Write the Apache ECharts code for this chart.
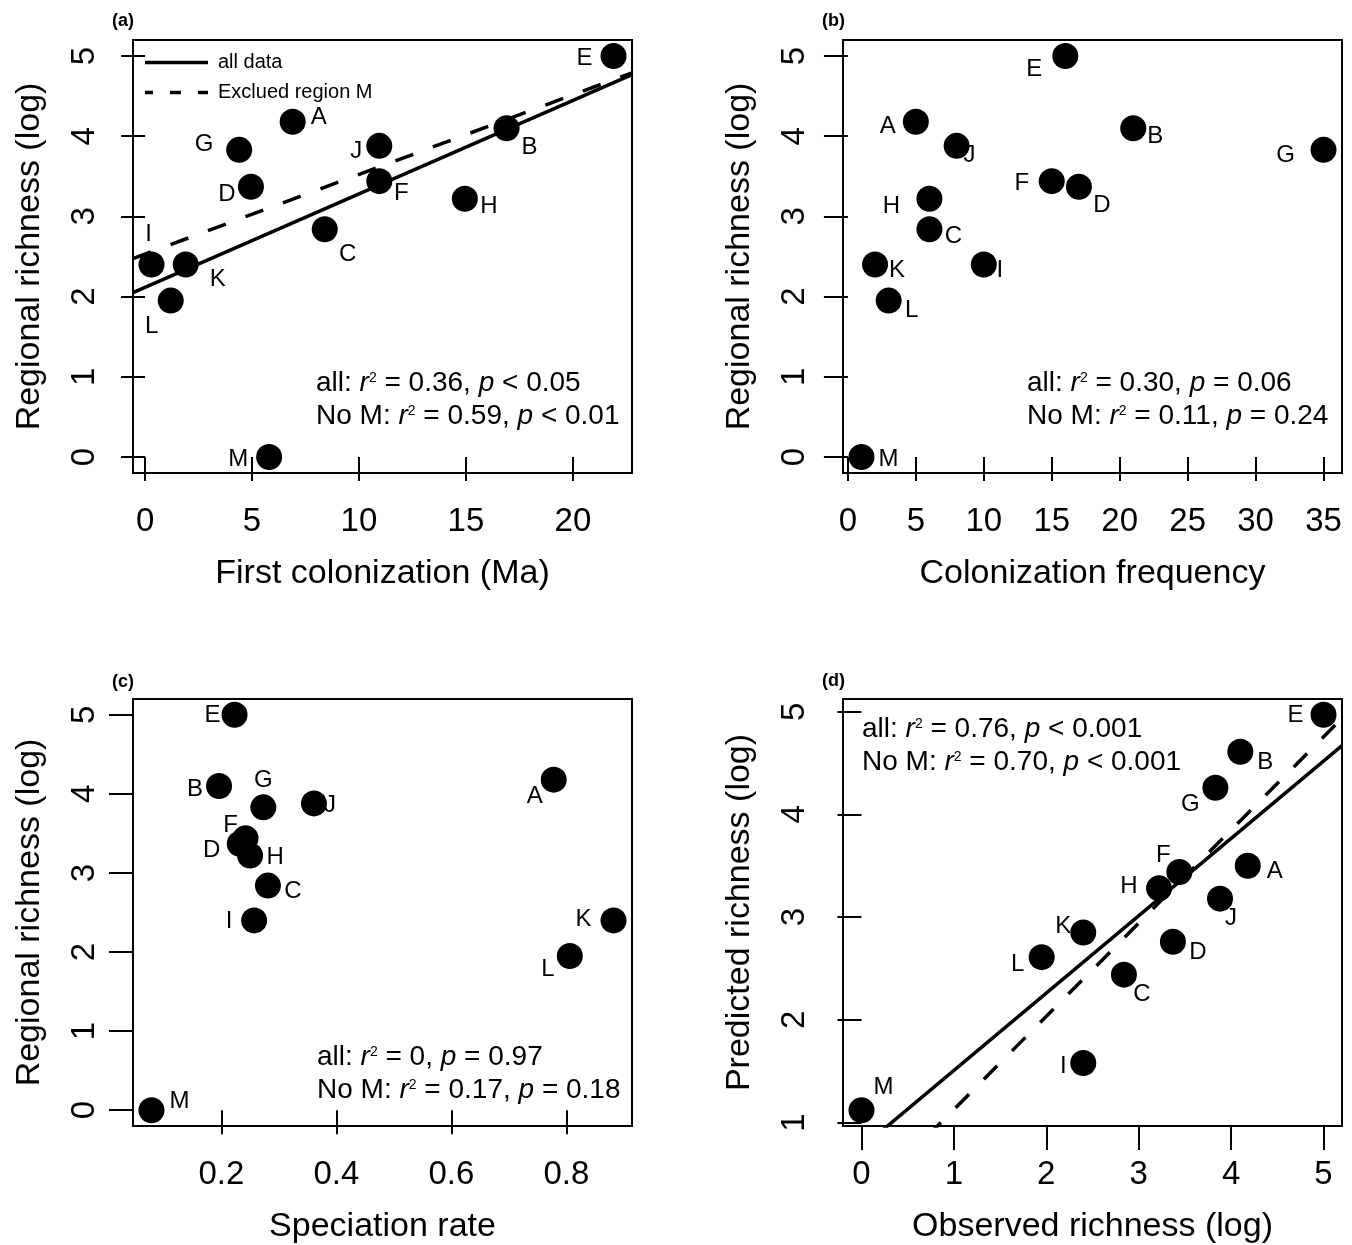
<!DOCTYPE html>
<html><head><meta charset="utf-8">
<script src="https://cdn.jsdelivr.net/npm/echarts@6/dist/echarts.min.js"></script>
<style>html,body{margin:0;padding:0;background:#fff}#chart{width:1352px;height:1245px}</style>
</head><body><div id="chart"></div>
<script>
// ---------------- DATA ----------------
const regions = ['A','B','C','D','E','F','G','H','I','J','K','L','M'];
const richness = [4.18, 4.10, 2.84, 3.37, 5.00, 3.44, 3.83, 3.22, 2.40, 3.88, 2.40, 1.95, 0.00];
const firstColonization = [6.9, 16.9, 8.4, 4.95, 21.9, 10.95, 4.4, 14.95, 0.3, 10.95, 1.9, 1.2, 5.8];
const colonizationFrequency = [5, 21, 6, 17, 16, 15, 35, 6, 10, 8, 2, 3, 1];
const speciationRate = [0.778, 0.196, 0.281, 0.232, 0.223, 0.242, 0.273, 0.250, 0.257, 0.361, 0.882, 0.806, 0.0785];
const predictedRichness = [3.50, 4.61, 2.44, 2.76, 4.97, 3.44, 4.26, 3.28, 1.58, 3.18, 2.85, 2.61, 1.12];

// regression lines: [intercept, slope]
const fitA_all = [2.115, 0.1166];
const fitA_noM = [2.53, 0.0993];
const fitD_all = [0.754, 0.753];
const fitD_noM = [0.22, 0.907];

const xTicksA = [0, 5, 10, 15, 20];
const xTicksB = [0, 5, 10, 15, 20, 25, 30, 35];
const xTicksC = [0.2, 0.4, 0.6, 0.8];
const xTicksD = [0, 1, 2, 3, 4, 5];
const yTicksRich = [0, 1, 2, 3, 4, 5];
const yTicksD = [1, 2, 3, 4, 5];

const statsA = [['all', '0.36', '<', '0.05'], ['No M', '0.59', '<', '0.01']];
const statsB = [['all', '0.30', '=', '0.06'], ['No M', '0.11', '=', '0.24']];
const statsC = [['all', '0', '=', '0.97'], ['No M', '0.17', '=', '0.18']];
const statsD = [['all', '0.76', '<', '0.001'], ['No M', '0.70', '<', '0.001']];

// ---------------- LAYOUT / STYLE ----------------
const FONT = "'Liberation Sans', Arial, Helvetica, sans-serif";
//                  A         B         C         D         E         F         G         H         I         J         K         L         M
const offA = [[26,-4],[23,19],[23,25],[-24,8],[-29,2],[22,12],[-35,-5],[24,8],[-3,-30],[-23,6],[32,15],[-19,26],[-31,2]];
const offB = [[-28,5],[22,8],[24,7],[23,19],[-31,13],[-30,2],[-38,6],[-38,8],[16,6],[13,10],[22,6],[23,10],[27,2]];
const offC = [[-19,17],[-24,3],[25,6],[-28,7],[-22,1],[-15,-13],[0,-27],[25,2],[-25,1],[16,2],[-30,-1],[-22,13],[28,-9]];
const offD = [[27,6],[25,11],[18,20],[25,11],[-28,1],[-16,-17],[-25,17],[-30,-2],[-20,3],[11,20],[-20,-6],[-24,7],[22,-23]];

const grids = [
  {left: 133, top: 40, width: 499, height: 433},
  {left: 843, top: 40, width: 499, height: 433},
  {left: 133, top: 699, width: 499, height: 433},
  {left: 843, top: 699, width: 499, height: 433}
];

function padRange(arr) {
  const mn = Math.min(...arr), mx = Math.max(...arr), p = 0.04 * (mx - mn);
  return [mn - p, mx + p];
}

const panels = [
  {x: firstColonization, y: richness, xt: xTicksA, yt: yTicksRich, xn: 'First colonization (Ma)', yn: 'Regional richness (log)', off: offA},
  {x: colonizationFrequency, y: richness, xt: xTicksB, yt: yTicksRich, xn: 'Colonization frequency', yn: 'Regional richness (log)', off: offB},
  {x: speciationRate, y: richness, xt: xTicksC, yt: yTicksRich, xn: 'Speciation rate', yn: 'Regional richness (log)', off: offC},
  {x: richness, y: predictedRichness, xt: xTicksD, yt: yTicksD, xn: 'Observed richness (log)', yn: 'Predicted richness (log)', off: offD}
];

const xAxes = [], yAxes = [], series = [];
panels.forEach((p, i) => {
  const xr = padRange(p.x), yr = padRange(p.y);
  p.xr = xr; p.yr = yr;
  const common = {
    type: 'value', gridIndex: i,
    nameLocation: 'middle',
    nameTextStyle: {fontSize: 34, color: '#000', fontFamily: FONT},
    axisLine: {show: false},
    splitLine: {show: false}
  };
  xAxes.push(Object.assign({}, common, {
    min: xr[0], max: xr[1], name: p.xn, nameGap: 84,
    axisTick: {show: true, length: 24, lineStyle: {color: '#000', width: 2}, customValues: p.xt},
    axisLabel: {customValues: p.xt, fontSize: 33, color: '#000', fontFamily: FONT, margin: 32, formatter: v => String(v)}
  }));
  yAxes.push(Object.assign({}, common, {
    min: yr[0], max: yr[1], name: p.yn, nameGap: 86,
    axisTick: {show: true, length: 24, lineStyle: {color: '#000', width: 2}, customValues: p.yt},
    axisLabel: {customValues: p.yt, rotate: 90, fontSize: 33, color: '#000', fontFamily: FONT, margin: 32, formatter: v => String(v)}
  }));
});

function fitLine(i, fit, dashed) {
  const xr = panels[i].xr;
  return {
    type: 'line', xAxisIndex: i, yAxisIndex: i, silent: true, symbol: 'none', showSymbol: false,
    clip: true, z: 1,
    data: [[xr[0], fit[0] + fit[1] * xr[0]], [xr[1], fit[0] + fit[1] * xr[1]]],
    lineStyle: {color: '#000', width: 3.5, opacity: 1, type: dashed ? [19, 21] : 'solid', cap: 'butt'}
  };
}
series.push(fitLine(0, fitA_all, false), fitLine(0, fitA_noM, true));
series.push(fitLine(3, fitD_all, false), fitLine(3, fitD_noM, true));

panels.forEach((p, i) => {
  series.push({
    type: 'scatter', xAxisIndex: i, yAxisIndex: i, z: 3, silent: true,
    symbol: 'circle', symbolSize: 26,
    itemStyle: {color: '#000', opacity: 1},
    label: {show: true, position: 'inside', formatter: '{b}', color: '#000', opacity: 1, fontSize: 24, fontFamily: FONT},
    data: regions.map((r, k) => ({name: r, value: [p.x[k], p.y[k]], label: {offset: p.off[k]}}))
  });
});

const rich = {
  n: {fontSize: 28, fontFamily: FONT, color: '#000', lineHeight: 32},
  i: {fontSize: 28, fontFamily: FONT, color: '#000', fontStyle: 'italic', lineHeight: 32},
  s: {fontSize: 14, fontFamily: FONT, color: '#000', lineHeight: 14, verticalAlign: 'top', padding: [4, 0, 0, 0]}
};
function statLine(s) {
  return `{n|${s[0]}: }{i|r}{s|2}{n| = ${s[1]}, }{i|p}{n| ${s[2]} ${s[3]}}`;
}
const statPos = [[316, 383, 416], [1027, 383, 416], [317, 1057, 1090], [862, 729, 762]];
const allStats = [statsA, statsB, statsC, statsD];
const graphics = [];
allStats.forEach((st, i) => {
  st.forEach((s, j) => {
    graphics.push({type: 'text', silent: true, style: {text: statLine(s), x: statPos[i][0], y: statPos[i][1 + j], verticalAlign: 'middle', rich: rich}});
  });
});
const panelTags = [['(a)', 112, 21], ['(b)', 822, 21], ['(c)', 112, 682], ['(d)', 822, 681]];
panelTags.forEach(t => graphics.push({type: 'text', silent: true,
  style: {text: t[0], x: t[1], y: t[2], verticalAlign: 'middle', fontSize: 18, fontWeight: 'bold', fontFamily: FONT, fill: '#000'}}));
// legend in panel (a)
graphics.push({type: 'line', silent: true, shape: {x1: 145, y1: 62.5, x2: 208, y2: 62.5}, style: {stroke: '#000', lineWidth: 3.5}});
graphics.push({type: 'line', silent: true, shape: {x1: 145, y1: 92.5, x2: 208, y2: 92.5}, style: {stroke: '#000', lineWidth: 3.5, lineDash: [11, 17], lineDashOffset: 3}});
graphics.push({type: 'text', silent: true, style: {text: 'all data', x: 218, y: 62, verticalAlign: 'middle', fontSize: 20, fontFamily: FONT, fill: '#000'}});
graphics.push({type: 'text', silent: true, style: {text: 'Exclued region M', x: 218, y: 92, verticalAlign: 'middle', fontSize: 20, fontFamily: FONT, fill: '#000'}});

const chart = echarts.init(document.getElementById('chart'), null, {renderer: 'canvas'});
chart.setOption({
  animation: false,
  backgroundColor: '#fff',
  grid: grids.map(g => Object.assign({show: true, borderColor: '#000', borderWidth: 2, backgroundColor: 'transparent'}, g)),
  xAxis: xAxes,
  yAxis: yAxes,
  series: series,
  graphic: graphics
});
</script></body></html>
